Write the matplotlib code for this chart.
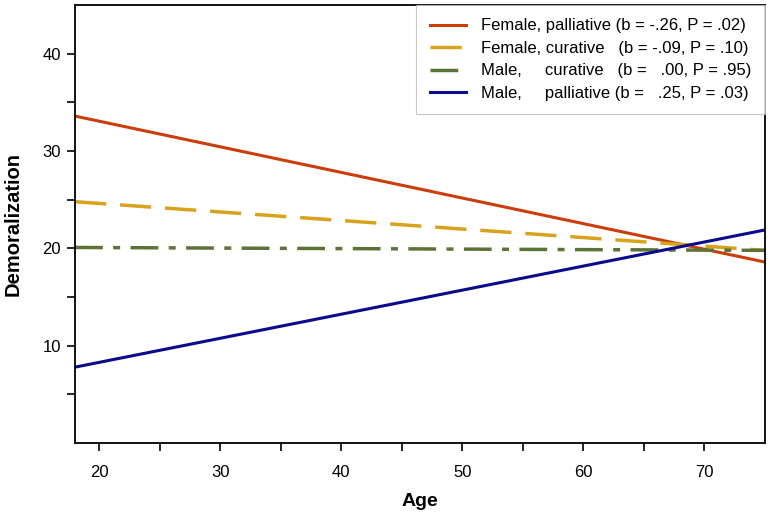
import numpy as np
from matplotlib import pyplot as plt

plt.rcParams['font.family'] = ['Liberation Sans', 'DejaVu Sans']

# age range of the fitted lines
age = [18, 75]

# fitted demoralization at age 18 and 75
fem_pall = [33.6, 18.6]
fem_cur = [24.8, 19.8]
male_cur = [20.1, 19.8]
male_pall = [7.8, 21.9]

labels = [
    "Female, palliative (b = -.26, P = .02)",
    "Female, curative   (b = -.09, P = .10)",
    "Male,     curative   (b =   .00, P = .95)",
    "Male,     palliative (b =   .25, P = .03)",
]

x_ticks = [20, 30, 40, 50, 60, 70]
x_minor = [25, 35, 45, 55, 65]
y_ticks = [10, 20, 30, 40]
y_minor = [5, 15, 25, 35]

fig = plt.figure(figsize=(7.7, 5.14), dpi=100)
ax = fig.add_axes([0.0974, 0.138, 0.8961, 0.852])

ax.plot(age, fem_pall, color='#CC3D0C', lw=2.2, label=labels[0])
ax.plot(age, fem_cur, color='#D9A21C', lw=2.5, dashes=(9, 4), label=labels[1])
ax.plot(age, male_cur, color='#5B7335', lw=2.5, dashes=(8, 3, 2, 3), label=labels[2])
ax.plot(age, male_pall, color='#0A0A8C', lw=2.2, label=labels[3])

ax.set_xlim(18, 75)
ax.set_ylim(0, 45)
ax.set_xticks(x_ticks)
ax.set_xticks(x_minor, minor=True)
ax.set_yticks(y_ticks)
ax.set_yticks(y_minor, minor=True)
ax.tick_params(which='both', direction='out', length=6, width=1.2, labelsize=12)
ax.tick_params(axis='x', pad=10)
ax.tick_params(axis='y', pad=4)
for s in ax.spines.values():
    s.set_linewidth(1.3)

ax.set_xlabel("Age", fontsize=14, fontweight='bold', labelpad=9)
ax.set_ylabel("Demoralization", fontsize=14.5, fontweight='bold', labelpad=14)

leg = ax.legend(loc='upper right', fontsize=12, frameon=True, fancybox=False,
                handlelength=2.2, borderaxespad=0.0, labelspacing=0.45,
                borderpad=0.8, handletextpad=0.9)
leg.get_frame().set_edgecolor('#bbbbbb')
leg.get_frame().set_linewidth(0.8)

fig.savefig("out.png", dpi=100)
